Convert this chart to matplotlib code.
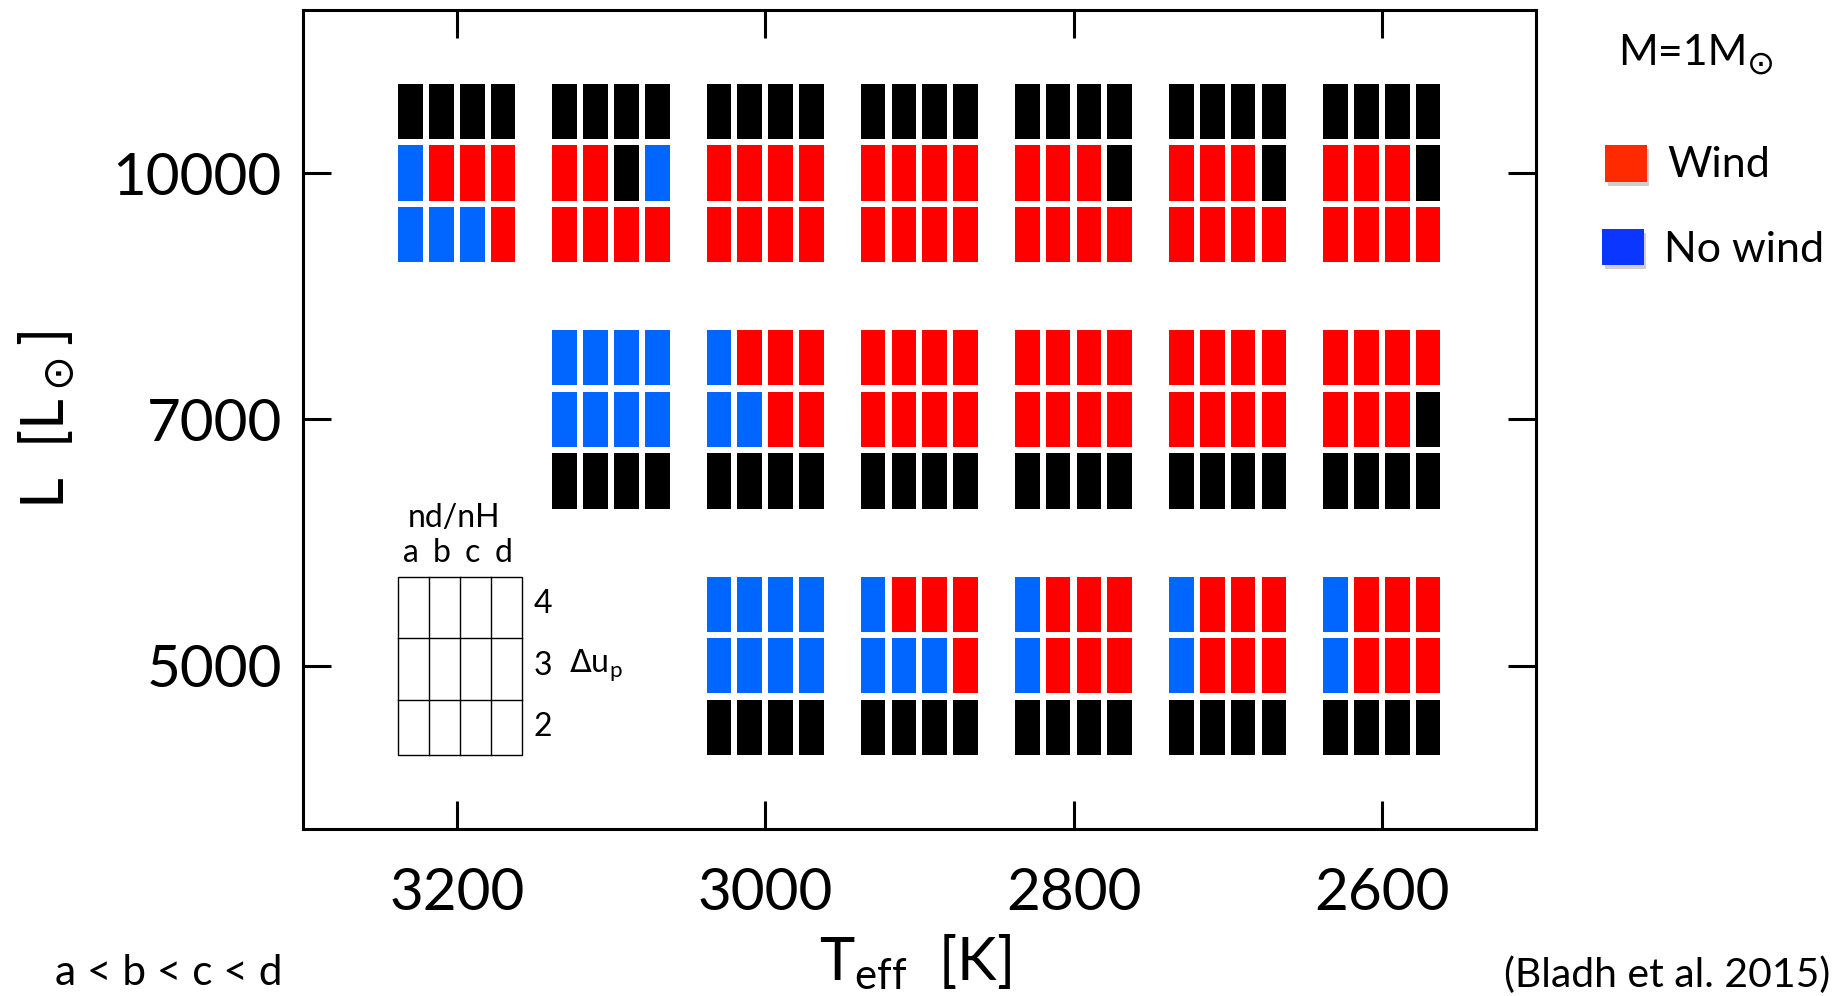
import matplotlib
matplotlib.use("Agg")
import matplotlib.pyplot as plt
from matplotlib.patches import Rectangle

# ---- model grid -------------------------------------------------------
teff_values = [3200, 3100, 3000, 2900, 2800, 2700, 2600]   # K
lum_values = [5000, 7000, 10000]                            # L_sun
dust_labels = ["a", "b", "c", "d"]                          # nd/nH, increasing
du_values = [4, 3, 2]                                       # delta u_p, top row first

# outcome per model: W = wind, N = no wind, X = black cell
# each block: rows for du = 4, 3, 2 ; columns a..d
outcome_L5000 = {
    3000: ["NNNN", "NNNN", "XXXX"],
    2900: ["NWWW", "NNNW", "XXXX"],
    2800: ["NWWW", "NWWW", "XXXX"],
    2700: ["NWWW", "NWWW", "XXXX"],
    2600: ["NWWW", "NWWW", "XXXX"],
}
outcome_L7000 = {
    3100: ["NNNN", "NNNN", "XXXX"],
    3000: ["NWWW", "NNWW", "XXXX"],
    2900: ["WWWW", "WWWW", "XXXX"],
    2800: ["WWWW", "WWWW", "XXXX"],
    2700: ["WWWW", "WWWW", "XXXX"],
    2600: ["WWWW", "WWWX", "XXXX"],
}
outcome_L10000 = {
    3200: ["XXXX", "NWWW", "NNNW"],
    3100: ["XXXX", "WWXN", "WWWW"],
    3000: ["XXXX", "WWWW", "WWWW"],
    2900: ["XXXX", "WWWW", "WWWW"],
    2800: ["XXXX", "WWWX", "WWWW"],
    2700: ["XXXX", "WWWX", "WWWW"],
    2600: ["XXXX", "WWWX", "WWWW"],
}
outcomes = [outcome_L5000, outcome_L7000, outcome_L10000]

cell_colors = {"W": "#ff0000", "N": "#0066ff", "X": "#000000"}

# ---- layout -----------------------------------------------------------
COL_PITCH = 20.0     # K between dust columns
COL_WIDTH = 16.0
ROW_PITCH = 0.25     # luminosity-axis units between du rows
ROW_HEIGHT = 0.224

tick_font = "Lato"
side_font = "Lato"

fig = plt.figure(figsize=(18.35, 9.96), dpi=100)
W, H = 1835.0, 996.0
ax = fig.add_axes([302.7 / W, (H - 829) / H, (1536 - 302.7) / W, (829 - 10) / H])

col_offsets = [(1.5 - k) * COL_PITCH for k in range(4)]
row_offsets = [ROW_PITCH, 0.0, -ROW_PITCH]

for li, block_set in enumerate(outcomes):
    for teff, rows in block_set.items():
        for ri, row in enumerate(rows):
            xs = [teff + off for off in col_offsets]
            cols = [cell_colors[c] for c in row]
            ax.bar(xs, ROW_HEIGHT, width=COL_WIDTH,
                   bottom=li + row_offsets[ri] - ROW_HEIGHT / 2,
                   color=cols, edgecolor="none", linewidth=0)

# ---- key box at (3200 K, 5000 L_sun) ---------------------------------
key_teff, key_li = 3200, 0
x_left = key_teff + col_offsets[0] + COL_WIDTH / 2
y_top = key_li + row_offsets[0] + ROW_HEIGHT / 2
y_bot = key_li + row_offsets[-1] - ROW_HEIGHT / 2
x_right = x_left - 4 * COL_PITCH
ax.add_patch(Rectangle((x_right, y_bot), x_left - x_right, y_top - y_bot,
                       fill=False, edgecolor="black", linewidth=1.0))
for k in range(1, 4):
    xv = x_left - k * COL_PITCH
    ax.plot([xv, xv], [y_bot, y_top], color="black", linewidth=1.0)
for k in range(1, 3):
    yh = y_top - k * ROW_PITCH
    ax.plot([x_right, x_left], [yh, yh], color="black", linewidth=1.0)

key_fs = 23
ax.text(key_teff + 2, key_li + 0.60, "nd/nH", ha="center", va="center",
        fontsize=key_fs, family=tick_font)
for k, lab in enumerate(dust_labels):
    ax.text(key_teff + col_offsets[k], key_li + 0.457, lab, ha="center",
            va="center", fontsize=key_fs, family=tick_font)
for ri, du in enumerate(du_values):
    ax.text(key_teff - 56, key_li + row_offsets[ri], str(du), ha="center",
            va="center", fontsize=key_fs, family=tick_font)
ax.text(key_teff - 73, key_li, r"$\Delta$u$_\mathregular{p}$", ha="left",
        va="center", fontsize=key_fs, family=tick_font)

# ---- axes ------------------------------------------------------------
ax.set_xlim(3300, 2500)
ax.set_ylim(-0.663, 2.662)
ax.set_xticks([3200, 3000, 2800, 2600])
ax.set_xticklabels(["3200", "3000", "2800", "2600"])
ax.set_yticks(range(len(lum_values)))
ax.set_yticklabels([str(v) for v in lum_values])
ax.tick_params(axis="both", direction="in", length=20, width=2.2,
               top=True, right=True, labelsize=42)
ax.tick_params(axis="y", pad=15)
ax.tick_params(axis="x", pad=27)
for lab in ax.get_xticklabels() + ax.get_yticklabels():
    lab.set_family(tick_font)
for sp in ax.spines.values():
    sp.set_linewidth(2.2)

fig.text(915 / W, 1 - 962 / H, r"T$_\mathregular{eff}$  [K]", ha="center",
         va="center", fontsize=43, family=tick_font)
fig.text(47 / W, 1 - 420 / H, r"L  [L$_\odot$]", ha="center", va="center",
         rotation=90, fontsize=43, family=tick_font)

# ---- legend ------------------------------------------------------------
fig.text(1618 / W, 1 - 65 / H, "M=1M", ha="left", va="baseline",
         fontsize=31, family=side_font)
fig.text(1761 / W, 1 - 64 / H, "\u2299", ha="center", va="center",
         fontsize=24, family="DejaVu Sans")
legend_items = [("Wind", "#ff2a00", 145, 182, 1605, 177),
                ("No wind", "#0a36ff", 229, 265, 1602, 262)]
for label, color, top, bot, x0, base in legend_items:
    fig.patches.append(Rectangle((x0 / W + 3 / W, 1 - (bot + 4) / H),
                                 41 / W, (bot - top) / H,
                                 transform=fig.transFigure, facecolor="#b0b0b0",
                                 edgecolor="none", alpha=0.6))
    fig.patches.append(Rectangle((x0 / W, 1 - bot / H), 42 / W, (bot - top) / H,
                                 transform=fig.transFigure, facecolor=color,
                                 edgecolor="none"))
    fig.text((x0 + 62) / W, 1 - base / H, label, ha="left", va="baseline",
             fontsize=31, family=side_font)

fig.text(55 / W, 1 - 985 / H, "a < b < c < d", ha="left", va="baseline",
         fontsize=30.5, family=side_font)
fig.text(1504 / W, 1 - 987 / H, "(Bladh et al. 2015)", ha="left",
         va="baseline", fontsize=29.5, family=side_font)

fig.savefig("out.png", dpi=100)
